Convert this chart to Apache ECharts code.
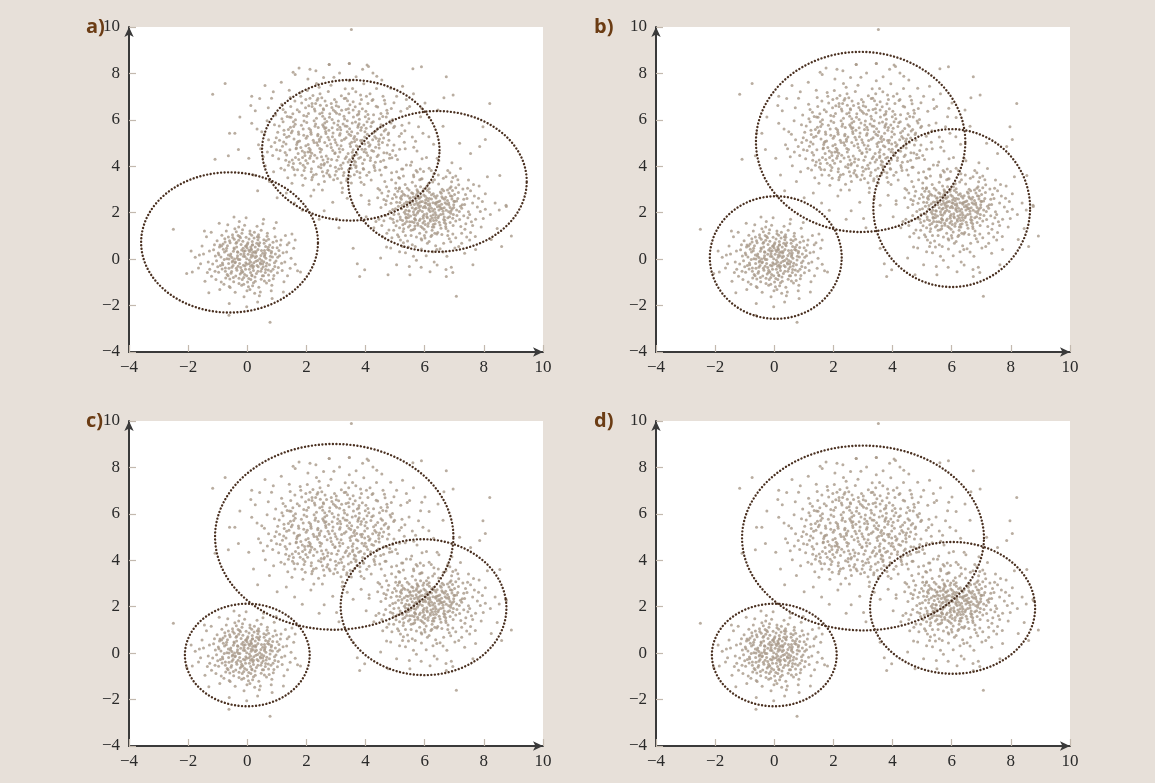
<!DOCTYPE html>
<html><head><meta charset="utf-8">
<script src="https://cdn.jsdelivr.net/npm/echarts@6/dist/echarts.min.js"></script>
<style>html,body{margin:0;padding:0;background:#e7e0d9;}#chart{width:1155px;height:783px;}</style>
</head><body><div id="chart"></div>
<script>
// ---- data ----
const xTicks = [-4, -2, 0, 2, 4, 6, 8, 10];
const yTicks = [-4, -2, 0, 2, 4, 6, 8, 10];
const panelLabels = ['a)', 'b)', 'c)', 'd)'];

const cluster1 = [
[-0.12,0.34],[0.45,-0.21],[-0.67,0.58],[0.23,0.91],[-0.35,-0.48],[0.78,0.12],[-0.91,-0.27],[0.05,-0.83],[0.62,0.55],[-0.18,1.12],
[1.05,-0.36],[-0.52,0.07],[0.31,-0.62],[-1.14,0.41],[0.14,0.18],[-0.28,-1.05],[0.87,0.73],[-0.73,-0.81],[0.47,1.24],[-0.05,-0.15],
[0.36,0.42],[-0.44,0.86],[1.21,0.28],[-1.32,-0.12],[0.09,-1.31],[0.58,-0.94],[-0.86,1.03],[0.71,-0.47],[-0.21,0.63],[0.19,-0.37],
[-0.63,-0.19],[0.94,0.96],[-0.09,1.46],[1.36,-0.71],[-1.02,0.79],[0.27,0.07],[-0.39,-0.73],[0.52,0.25],[-0.77,0.31],[0.02,0.71],
[-0.25,-0.02],[0.66,-0.18],[-0.58,-1.22],[1.12,0.61],[-1.48,0.22],[0.41,-1.58],[-0.14,0.47],[0.83,-1.12],[-0.97,-0.56],[0.15,1.03],
[0.03,0.21],[-0.47,0.34],[0.29,-0.09],[-0.82,0.65],[0.74,0.38],[-0.31,-0.31],[1.48,0.04],[-1.21,-0.74],[0.11,-0.58],[0.56,0.84],
[-0.06,-0.44],[0.38,0.63],[-0.69,0.02],[0.21,-1.02],[-1.65,-0.38],[0.97,-0.08],[-0.42,1.31],[0.64,-0.29],[-0.17,-0.88],[1.29,1.02],
[-0.33,0.15],[0.12,0.52],[-0.88,-0.98],[0.49,-0.41],[-0.04,1.78],[0.82,0.33],[-1.08,0.14],[0.33,1.42],[-0.55,-0.61],[0.07,-0.04],
[0.72,-0.68],[-0.26,0.98],[1.01,0.49],[-0.62,-0.39],[0.18,0.29],[-1.38,0.96],[0.44,-0.15],[-0.11,-1.62],[0.91,1.33],[-0.75,0.74],
[0.26,-0.77],[-0.49,-0.07],[0.59,0.18],[-0.19,0.39],[1.18,-0.49],[-0.93,-1.31],[0.06,0.87],[-0.36,0.52],[0.67,0.99],[-1.27,-0.44],
[0.42,0.02],[-0.71,1.21],[0.16,-0.25],[-0.03,0.58],[0.88,-0.84],[-0.56,0.22],[1.57,0.47],[-0.24,-0.64],[0.32,0.69],[-1.76,0.08],
[0.54,-0.33],[-0.13,-0.26],[-0.81,0.43],[0.24,1.16],[-0.41,-1.43],[1.09,0.15],[-0.64,0.95],[0.39,-1.21],[-0.08,0.11],[0.76,0.61],
[-1.17,-0.21],[0.13,0.44],[-0.29,0.81],[0.61,-0.58],[-0.48,-0.27],[1.24,-0.97],[-0.02,-0.71],[0.48,0.37],[-0.94,0.52],[0.35,-0.06],
[-0.16,1.27],[0.85,0.09],[-0.59,-0.85],[0.08,0.33],[-1.43,-0.95],[0.68,1.12],[-0.34,0.05],[0.21,-0.49],[-0.74,-0.52],[1.41,0.71],
[0.01,-0.98],[-0.38,0.69],[0.51,-0.72],[-0.98,0.27],[0.17,0.76],[-0.22,-0.36],[0.93,-0.32],[-0.66,1.48],[0.28,0.26],[-0.07,0.36],
[1.16,-0.18],[-0.53,-0.53],[0.34,0.96],[-1.04,-0.07],[0.63,0.04],[-0.27,1.62],[0.07,-0.43],[0.99,0.78],[-0.84,-0.17],[0.44,-1.41],
[-0.45,0.48],[0.22,-0.16],[-1.53,0.57],[0.75,-0.24],[-0.11,0.23],[0.53,1.52],[-0.79,-1.08],[1.33,0.31],[-0.30,-0.02],[0.04,-1.19],
[0.61,0.27],[-0.57,0.14],[0.15,-0.68],[-0.23,0.92],[1.02,-0.59],[-1.11,0.62],[0.40,0.58],[-0.46,-0.97],[0.81,-1.36],[-0.01,0.49],
[-0.85,-0.42],[0.31,0.12],[-0.15,-0.55],[0.69,0.42],[-0.60,0.79],[1.45,-0.39],[0.09,1.21],[-0.40,-0.12],[0.47,-0.87],[-1.28,0.35],
[0.17,0.61],[-0.68,-0.66],[0.95,0.22],[-0.32,0.30],[0.25,-1.47],[-0.02,0.02],[0.72,0.86],[-1.35,-0.58],[0.56,-0.11],[-0.19,-1.12],
[1.62,-0.22],[-0.50,1.05],[0.11,-0.31],[-0.89,0.09],[0.36,0.84],[-0.12,-0.79],[0.80,-0.52],[-0.70,0.47],[0.20,0.15],[-0.37,1.18],
[0.65,-1.03],[-1.00,-0.33],[0.30,0.33],[-0.26,-0.19],[1.14,0.82],[-0.61,-1.18],[0.00,0.64],[0.52,-0.20],[-1.22,1.16],[0.86,0.50],
[-0.43,0.01],[0.12,-0.88],[-0.76,0.88],[0.58,0.11],[-0.08,-0.29],[1.27,-0.12],[-0.52,-0.35],[0.38,1.05],[-1.58,-0.20],[0.14,0.40],
[-0.20,-0.58],[0.90,-0.70],[-0.36,0.73],[0.46,-0.52],[-1.06,-0.88],[0.27,0.52],[-0.64,0.18],[1.07,0.37],[0.06,-0.20],[-0.29,1.38],
[0.77,-0.04],[-0.92,0.61],[0.18,-1.15],[-0.13,0.13],[0.57,0.69],[-0.47,-0.79],[1.35,0.62],[-0.78,-0.01],[0.37,-0.33],[-0.04,0.94],
[-1.86,-0.55],[-1.62,0.18],[-1.45,1.21],[-0.45,1.82],[0.55,1.72],[1.51,1.08],[1.70,-0.50],[1.22,-1.41],[0.35,-1.85],[-0.61,-1.91],
[-1.30,-1.45],[-2.05,-0.62],[-1.90,0.35],[0.84,-1.70],[-0.02,-2.05],[1.62,0.82],[-0.95,1.55],[0.98,1.58],[0.77,-2.72],[-0.62,-2.42],
[-0.22,0.21],[0.33,-0.27],[-0.51,-0.12],[0.18,0.62],[-0.09,-0.66],[0.62,-0.45],[-0.71,0.36],[0.05,0.39],[-0.37,-0.39],[0.46,0.16],
[-0.15,0.77],[0.27,-0.95],[-0.83,-0.24],[0.71,0.51],[-0.02,-0.22],[-0.58,0.71],[0.39,0.94],[-0.28,-0.82],[0.92,-0.15],[0.13,0.08],
[-0.44,0.44],[0.55,-0.71],[-0.96,0.19],[0.24,0.32],[-0.12,-1.08],[0.81,0.27],[-0.65,-0.72],[0.09,1.09],[-0.33,0.32],[0.49,-0.06],
[-0.06,0.56],[0.36,-0.52],[-0.74,-0.38],[0.64,0.79],[-0.19,-0.48],[1.03,0.08],[-0.49,0.93],[0.21,-0.31],[-0.87,0.57],[0.11,-0.12],
[-0.31,1.02],[0.74,-0.92],[-1.09,-0.52],[0.42,0.71],[-0.01,-1.36],[0.58,0.37],[-0.62,0.01],[0.16,-0.72],[-0.42,-0.15],[0.87,-0.44]
];

const cluster2 = [
[3.12,5.34],[2.05,4.62],[4.21,5.88],[1.48,6.11],[3.67,3.95],[2.58,5.71],[4.89,4.37],[1.92,3.82],[3.34,6.45],[2.71,4.18],
[0.98,5.23],[3.89,5.12],[2.36,6.84],[4.52,6.27],[1.67,4.94],[3.05,3.47],[5.21,5.41],[2.14,5.56],[3.58,4.71],[0.54,4.41],
[2.87,6.02],[4.04,3.61],[1.21,5.92],[3.43,7.12],[2.49,3.94],[5.63,4.82],[1.84,6.73],[3.96,4.28],[2.62,5.03],[4.37,7.35],
[3.21,2.87],[1.56,4.12],[4.68,5.59],[2.29,6.38],[3.75,5.76],[0.71,6.52],[2.96,4.55],[5.12,3.52],[1.99,5.21],[3.52,3.28],
[2.43,7.41],[4.15,4.93],[1.37,3.51],[3.08,5.95],[5.86,6.13],[2.11,4.35],[3.81,6.69],[0.89,3.77],[4.48,3.84],[2.68,6.62],
[3.35,4.41],[1.73,5.48],[4.96,6.74],[2.54,2.98],[3.63,5.28],[0.33,5.61],[2.22,7.05],[4.27,5.45],[1.45,6.96],[3.17,4.89],
[5.38,4.06],[2.77,3.63],[3.94,7.56],[1.11,4.68],[4.62,4.58],[2.38,5.32],[3.46,5.62],[6.14,5.27],[1.88,3.18],[2.93,7.84],
[4.11,6.05],[1.62,5.81],[3.27,3.73],[2.01,6.16],[4.79,5.12],[0.61,4.02],[3.71,4.52],[2.45,4.77],[5.05,7.02],[3.02,6.29],
[1.29,6.33],[3.85,3.31],[2.66,5.41],[4.41,6.55],[1.95,4.47],[3.53,5.04],[5.47,5.86],[2.18,3.42],[3.13,5.68],[0.15,5.85],
[4.33,4.17],[2.82,4.96],[1.53,3.96],[3.39,6.82],[4.88,3.72],[2.26,5.96],[3.61,4.07],[1.03,5.47],[4.06,5.38],[2.57,6.48],
[3.28,5.16],[5.74,4.66],[1.81,4.81],[3.77,6.25],[2.33,3.66],[4.57,5.73],[0.82,6.93],[2.98,3.96],[3.99,4.73],[1.41,5.29],
[4.72,6.41],[2.09,5.63],[3.48,3.57],[2.74,7.22],[5.31,5.04],[1.74,4.29],[3.09,6.56],[4.19,3.41],[0.45,4.76],[2.51,4.41],
[3.66,5.91],[1.26,3.84],[4.46,4.79],[2.19,6.58],[3.31,4.34],[5.94,5.42],[1.57,5.71],[3.87,5.01],[2.41,3.23],[4.25,6.88],
[2.88,5.27],[0.96,6.21],[3.58,6.42],[1.89,4.04],[4.61,4.26],[2.62,5.86],[3.22,3.06],[5.19,6.37],[2.03,7.27],[3.74,4.84],
[1.33,4.49],[4.02,5.64],[2.47,4.62],[3.45,7.68],[5.56,4.19],[1.69,6.44],[3.16,4.05],[4.36,5.21],[2.78,6.11],[0.72,5.14],
[3.93,3.87],[2.16,5.38],[4.83,5.95],[1.51,3.27],[3.38,5.49],[2.59,4.06],[4.15,7.12],[1.06,4.32],[3.01,6.77],[5.02,4.46],
[2.31,6.71],[3.55,4.61],[1.77,5.09],[4.53,3.63],[2.92,3.42],[3.79,6.03],[0.27,6.39],[2.44,5.17],[4.95,5.67],[1.98,4.88],
[3.24,5.82],[4.39,4.42],[1.39,5.58],[2.69,3.71],[3.84,5.55],[5.69,5.08],[2.07,6.27],[3.41,4.18],[1.16,6.67],[4.64,6.84],
[2.85,4.29],[3.71,3.78],[1.63,6.01],[4.27,6.22],[2.28,4.48],[3.18,7.04],[5.26,3.88],[0.93,5.02],[3.97,4.96],[2.55,5.79],
[1.85,3.61],[4.09,5.02],[2.97,6.36],[3.62,4.23],[1.19,4.86],[4.74,4.92],[2.39,6.92],[3.36,3.38],[5.41,6.49],[2.13,4.71],
[3.50,5.33],[1.47,6.58],[4.30,3.95],[2.65,5.50],[3.89,6.48],[0.58,5.38],[2.80,3.55],[4.53,5.36],[1.91,5.34],[3.27,6.16],
[4.98,5.73],[2.24,4.21],[3.60,5.20],[1.30,4.26],[2.90,5.43],[4.21,4.68],[6.06,4.38],[2.52,6.95],[3.42,3.84],[1.72,5.07],
[3.83,4.39],[2.35,5.01],[4.70,6.12],[1.61,3.63],[3.13,4.62],[2.01,5.89],[4.44,5.08],[0.38,4.93],[3.56,7.35],[2.73,4.33],
[3.99,6.13],[1.23,5.05],[2.61,3.35],[4.82,4.51],[3.05,5.59],[1.79,7.18],[3.68,4.01],[5.33,5.53],[2.45,6.26],[4.12,3.74],
[1.94,4.59],[3.25,3.60],[4.59,7.02],[2.70,4.89],[0.67,5.96],[3.78,5.83],[2.17,3.89],[5.08,4.29],[3.44,6.31],[1.52,5.52],
[2.96,5.14],[4.26,5.92],[1.42,4.19],[3.57,4.44],[2.34,7.57],[4.91,6.02],[1.97,6.52],[3.19,3.91],[5.79,5.70],[2.84,6.71],
[3.73,5.42],[1.08,5.74],[4.17,4.37],[2.50,4.08],[3.33,6.93],[0.86,4.47],[2.62,6.05],[4.66,3.96],[3.11,4.76],[1.70,3.85],
[4.47,5.18],[2.06,4.94],[3.81,3.52],[2.40,5.67],[5.58,5.26],[1.35,6.15],[3.47,4.97],[2.83,7.49],[4.08,6.70],[1.87,4.38],
[3.03,4.26],[4.78,5.43],[1.58,5.18],[3.65,6.56],[2.20,3.53],[4.34,4.82],[0.49,5.49],[2.76,5.55],[3.90,4.12],[1.98,6.88],
[3.37,5.72],[5.15,4.73],[2.12,4.63],[3.01,3.79],[4.58,6.15],[1.65,4.76],[3.70,5.15],[2.58,6.44],[4.03,4.58],[1.14,3.92],
[0.21,3.62],[-0.42,5.42],[-0.25,6.12],[0.15,7.02],[0.60,7.48],[1.15,7.62],[1.62,7.95],[2.32,8.12],[2.77,8.38],[3.45,8.43],
[3.90,8.18],[4.25,8.02],[4.55,7.72],[5.25,7.45],[5.62,7.12],[6.01,6.73],[6.45,6.42],[6.62,5.72],[6.30,4.95],[5.88,3.45],
[0.35,2.95],[1.01,2.65],[1.60,2.42],[2.15,2.72],[2.60,2.08],[3.02,1.75],[3.58,2.32],[4.12,2.52],[4.48,2.98],[5.15,3.08],
[1.75,8.23],[2.05,7.76],[3.12,8.02],[3.68,7.86],[4.05,8.36],[4.85,7.36],[5.38,6.88],[0.12,6.62],[-0.30,4.72],[0.05,4.35],
[2.89,2.45],[2.25,2.98],[3.38,2.62],[1.32,2.85],[0.42,6.92],[5.49,6.58],[6.15,6.10],[4.38,7.88],[1.42,7.28],[2.58,7.82],
[0.75,3.35],[4.70,2.52],[3.85,2.75],[0.88,7.21],[1.86,2.11],[2.43,1.72],[5.71,3.82],[6.42,4.35],[5.90,6.50],[3.10,1.35],
[2.44,5.08],[3.86,5.67],[1.72,4.55],[4.28,4.03],[2.95,6.88],[3.41,4.55],[1.25,5.37],[4.63,5.52],[2.16,3.77],[3.29,6.04],
[2.67,4.44],[4.01,6.37],[1.54,6.26],[3.62,3.64],[2.31,5.82],[4.92,4.68],[1.89,5.61],[3.17,3.29],[2.79,6.26],[4.45,4.94],
[0.81,4.85],[3.53,5.49],[2.04,4.13],[4.18,5.71],[2.58,3.58],[3.95,4.63],[1.44,4.71],[3.06,5.78],[4.74,6.29],[2.27,6.47],
[3.69,4.89],[1.96,3.49],[2.89,4.68],[4.36,6.59],[1.17,6.05],[3.24,4.14],[5.14,5.29],[2.49,5.26],[3.83,7.07],[1.63,4.38],
[3.38,5.96],[2.12,6.93],[4.07,4.47],[2.72,3.82],[1.31,4.96],[3.58,6.78],[4.86,5.86],[2.36,4.36],[3.14,5.41],[1.81,7.02],
[2.55,6.16],[4.31,5.28],[1.58,3.86],[3.77,4.35],[2.99,5.02],[0.68,4.62],[4.51,4.21],[2.23,5.12],[3.47,6.65],[1.92,5.95],
[4.05,5.92],[2.81,4.02],[3.31,7.34],[1.49,5.44],[4.69,3.96],[2.62,5.63],[3.92,3.91],[2.09,4.78],[5.34,4.76],[3.19,6.41],
[1.76,6.35],[3.63,5.07],[2.41,3.98],[4.22,6.83],[2.93,5.86],[1.09,5.12],[3.51,3.92],[4.57,5.02],[2.19,6.71],[3.72,6.21],
[2.03,5.29],[3.46,4.28],[4.87,6.49],[1.39,4.05],[2.86,6.53],[3.98,5.49],[2.51,4.72],[4.32,3.82],[1.83,5.77],[3.23,4.72],
[2.69,5.93],[4.12,4.86],[1.61,6.81],[3.55,5.86],[2.24,3.62],[4.76,5.37],[3.08,4.41],[1.28,4.59],[3.86,6.88],[2.47,6.63],
[3.34,5.23],[1.98,4.25],[4.41,5.63],[2.77,5.14],[3.66,4.18],[0.92,5.79],[2.15,5.47],[4.96,4.92],[3.01,6.61],[1.69,5.03],
[3.97,5.26],[2.56,4.27],[3.28,6.92],[1.46,5.68],[4.43,4.49],[2.34,6.07],[3.81,3.72],[2.87,5.66],[5.23,5.77],[1.86,4.66],
[3.16,5.57],[2.63,6.81],[4.24,5.14],[1.95,3.95],[3.49,4.85],[2.39,5.38],[4.66,6.69],[1.21,6.45],[3.74,5.68],[2.97,3.62],
[4.08,6.23],[2.18,4.56],[3.37,3.46],[1.56,5.92],[2.84,4.81],[4.52,5.79],[3.12,6.24],[1.79,4.13],[3.88,4.73],[2.46,7.12],
[2.73,5.25],[3.59,6.12],[1.33,5.25],[4.16,4.25],[2.29,5.72],[3.04,4.92],[4.81,4.35],[1.91,6.19],[3.44,5.38],[2.61,4.12],
[3.94,5.78],[2.08,6.61],[4.47,6.05],[1.52,4.27],[3.19,5.11],[2.54,3.77],[3.78,6.36],[0.99,4.71],[4.27,4.65],[2.91,6.42],
[1.74,5.38],[3.56,4.38],[2.38,4.91],[4.03,7.02],[3.09,3.88],[1.43,6.12],[4.61,5.22],[2.66,5.66],[3.42,6.48],[2.14,4.44],
[3.83,5.11],[2.53,6.31],[1.66,4.79],[4.34,5.52],[2.97,4.58],[3.31,5.74],[1.24,5.55],[4.72,4.57],[2.26,5.02],[3.67,7.21]
];

const cluster3 = [
[6.12,2.34],[5.45,1.79],[6.67,2.58],[5.23,2.91],[6.35,1.52],[7.08,2.12],[5.61,1.27],[6.05,1.17],[6.82,2.85],[5.82,2.62],
[7.05,1.64],[5.48,2.07],[6.31,1.38],[4.86,2.41],[6.14,2.18],[5.72,0.95],[6.87,2.73],[5.27,1.19],[6.47,3.24],[5.95,1.85],
[6.36,2.42],[5.56,2.86],[7.21,2.28],[4.68,1.88],[6.09,0.69],[6.58,1.06],[5.14,3.03],[6.71,1.53],[5.79,2.63],[6.19,1.63],
[5.37,1.81],[6.94,2.96],[5.91,3.46],[7.36,1.29],[4.98,2.79],[6.27,2.07],[5.66,1.31],[6.52,2.25],[5.23,2.31],[6.02,2.71],
[5.75,1.98],[6.66,1.82],[5.42,0.78],[7.12,2.61],[4.52,2.22],[6.41,0.42],[5.86,2.47],[6.83,0.88],[5.03,1.44],[6.15,3.03],
[6.03,2.21],[5.53,2.34],[6.29,1.91],[5.18,2.65],[6.74,2.38],[5.69,1.69],[7.48,2.04],[4.79,1.26],[6.11,1.42],[6.56,2.84],
[5.94,1.56],[6.38,2.63],[5.31,2.02],[6.21,0.98],[4.35,1.62],[6.97,1.92],[5.58,3.31],[6.64,1.71],[5.83,1.12],[7.29,3.02],
[5.67,2.15],[6.12,2.52],[5.12,0.96],[6.49,1.59],[5.96,3.78],[6.82,2.33],[4.92,2.14],[6.33,3.42],[5.45,1.39],[6.07,1.96],
[6.72,1.32],[5.74,2.99],[7.01,2.48],[5.38,1.76],[6.18,2.29],[4.62,2.57],[6.44,1.15],[5.89,0.44],[6.91,3.33],[5.66,1.75],
[6.26,1.77],[5.51,2.64],[6.59,2.18],[5.81,2.23],[7.18,1.71],[5.07,1.64],[6.06,3.12],[6.64,0.68],[5.62,2.04],[6.35,2.01],
[6.42,2.73],[5.33,1.54],[6.88,1.98],[5.73,2.41],[7.43,2.61],[5.98,1.29],[5.21,2.58],[6.52,1.47],[5.86,3.12],[6.23,2.59],
[5.54,1.02],[6.77,2.53],[5.01,2.17],[6.09,1.78],[7.58,1.61],[5.44,2.45],[6.31,3.68],[5.77,1.46],[6.98,2.22],[4.71,3.12],
[6.17,2.39],[5.63,1.92],[6.79,1.21],[5.28,2.81],[6.46,2.47],[5.92,2.05],[7.27,2.34],[5.17,1.82],[6.59,3.01],[6.01,0.91],
[5.41,2.27],[6.86,1.58],[5.97,2.76],[6.25,1.24],[4.84,1.76],[6.61,2.62],[5.69,3.15],[7.05,0.92],[5.49,1.61],[6.29,2.82],
[5.85,1.73],[6.48,2.12],[5.22,2.17],[6.92,2.71],[5.58,0.62],[6.05,2.41],[7.62,2.42],[5.34,3.22],[6.73,2.11],[5.99,1.63],
[6.39,1.68],[5.47,2.98],[6.15,0.76],[5.78,2.32],[7.22,1.41],[5.08,1.05],[6.63,3.48],[5.67,1.43],[6.99,2.49],[6.21,1.86],
[5.59,2.47],[6.54,1.92],[5.15,3.48],[6.86,2.23],[5.88,0.88],[6.33,2.71],[4.95,1.58],[7.32,1.87],[5.71,2.71],[6.12,1.54],
[6.57,2.37],[5.36,2.11],[6.78,1.02],[5.94,2.93],[6.41,1.08],[5.16,2.44],[7.14,2.87],[5.76,1.55],[6.27,3.32],[5.52,1.86],
[6.95,1.76],[5.86,2.29],[6.64,2.95],[5.29,1.31],[6.18,2.05],[7.78,2.25],[5.43,2.72],[6.37,0.58],[5.63,3.55],[6.84,1.83],
[6.02,1.49],[5.57,1.61],[6.71,2.67],[5.04,2.68],[6.45,1.78],[5.83,3.42],[7.39,1.52],[5.28,0.71],[6.23,2.19],[6.89,3.12],
[4.42,3.04],[4.12,2.36],[4.58,0.96],[4.88,3.42],[4.28,1.35],[3.95,3.22],[4.71,0.52],[5.05,3.76],[4.45,1.72],[4.02,1.83],
[7.65,3.22],[7.91,1.38],[8.05,2.82],[7.52,0.82],[8.22,1.92],[7.84,3.15],[8.38,2.42],[7.71,0.98],[7.98,1.75],[8.12,3.55],
[5.52,4.05],[6.15,3.92],[6.78,3.82],[7.05,3.58],[5.22,3.88],[6.48,4.24],[7.48,3.41],[5.91,4.32],[6.92,4.15],[7.21,3.91],
[5.35,0.28],[6.05,0.15],[6.62,0.31],[7.02,0.48],[5.72,-0.05],[6.32,-0.12],[5.88,-0.35],[6.72,-0.45],[6.95,-0.58],[7.35,0.25],
[4.85,0.48],[4.51,0.05],[6.18,-0.54],[5.48,-0.32],[7.72,0.42],[8.25,0.85],[8.45,1.32],[8.52,2.12],[7.55,2.95],[8.75,2.32],
[5.78,2.88],[6.43,2.26],[5.65,2.35],[6.68,1.68],[6.08,2.62],[5.50,1.45],[6.93,2.16],[5.99,1.02],[6.51,2.51],[5.38,2.46],
[6.26,1.38],[5.84,2.11],[6.62,1.95],[5.25,1.66],[6.77,2.98],[6.00,2.28],[7.17,2.05],[5.60,2.83],[6.30,1.66],[5.92,1.35],
[6.16,2.88],[5.71,2.52],[6.81,2.04],[5.46,2.08],[6.55,2.17],[5.95,1.76],[7.08,2.51],[5.33,2.75],[6.38,1.91],[6.69,2.43],
[5.92,2.48],[6.47,1.86],[5.35,1.95],[6.81,2.42],[5.64,1.58],[6.23,2.77],[5.11,2.28],[6.96,1.45],[5.78,2.05],[6.34,1.12],
[5.49,2.62],[6.66,2.21],[5.87,1.41],[6.12,3.25],[4.96,1.92],[7.01,2.78],[5.69,1.89],[6.41,2.45],[5.26,1.48],[6.78,1.78],
[6.07,1.84],[5.58,2.21],[6.92,2.59],[5.41,3.05],[6.29,1.49],[7.25,2.19],[5.73,2.78],[6.55,1.33],[5.18,1.71],[6.16,2.61],
[5.97,3.02],[6.62,2.06],[5.31,2.39],[6.85,3.05],[5.54,1.24],[6.38,2.37],[7.46,1.78],[5.82,1.66],[6.03,2.55],[6.71,1.41],
[4.91,2.61],[5.62,2.68],[6.24,1.03],[6.98,2.34],[5.44,1.92],[6.14,2.12],[7.15,3.21],[5.09,2.93],[6.53,2.89],[5.90,0.82],
[4.65,3.35],[4.78,2.92],[5.02,3.28],[4.41,2.65],[4.55,1.45],[4.89,0.92],[5.25,0.55],[7.55,1.15],[7.82,2.62],[8.05,2.15],
[6.46,3.62],[5.75,3.75],[6.95,3.52],[7.38,2.78],[5.15,0.32],[6.75,0.12],[7.25,0.68],[4.72,1.12],[6.42,-0.25],[5.62,0.12],
[5.81,2.42],[6.33,2.15],[5.67,1.72],[6.58,2.69],[5.95,2.22],[6.19,1.71],[5.52,2.51],[6.89,2.09],[6.09,2.96],[5.39,1.62],
[6.66,1.58],[5.76,2.93],[6.28,2.43],[5.98,1.92],[6.49,2.31],[5.71,2.19],[7.09,1.88],[5.87,2.69],[6.36,1.79],[6.01,2.43],
[4.82,2.05],[5.05,2.45],[4.95,1.25],[5.18,0.82],[7.35,2.35],[7.52,1.92],[7.68,2.72],[7.25,1.12],[7.42,0.95],[5.02,3.05],
[4.75,2.72],[7.12,3.42],[7.62,1.45],[5.28,3.58],[6.85,3.72],[6.22,3.82],[4.62,1.65],[5.12,1.95],[7.32,2.58],[7.88,2.05],
[5.35,1.02],[5.68,0.55],[6.52,0.45],[6.88,0.75],[7.15,0.55],[4.92,1.72],[5.22,2.72],[7.45,3.05],[6.72,3.55],[5.85,3.88],
[4.55,2.85],[4.68,2.35],[7.72,1.72],[7.95,2.48],[5.45,0.52],[6.28,0.32],[6.95,1.08],[5.15,1.35],[7.05,3.08],[5.62,3.62]
];

const outliers = [
[3.52,9.89],[-2.50,1.29],[-1.17,7.10],[-0.75,7.57],[-1.09,4.30],[-0.60,5.42],[-0.64,4.45],[7.07,-1.60],[8.20,6.70],[8.93,1.00],
[8.60,0.54],[6.73,7.86],[5.89,8.29],[5.60,8.20],[2.77,8.39],[3.45,8.43],[6.96,7.07],[7.97,5.70],[7.86,4.85],[7.18,4.99],
[8.54,3.60],[8.76,2.27],[4.76,-0.67],[3.80,-0.75],[3.97,-0.46],[5.50,-0.67],[5.05,-0.24],[6.73,-0.75],[7.63,-0.24],[3.58,0.47],
[6.65,6.95],[1.55,8.05],[2.12,8.18],[4.10,8.30],[3.72,-0.20],[8.05,5.15],[7.55,4.55],[6.90,-0.35],[1.80,-0.55]
];

// ellipses: [centerX, centerY, radiusX, radiusY, rotationDeg]
const ellipsesA = [[-0.60,0.72,2.99,3.02,0],[3.50,4.69,3.00,3.03,0],[6.43,3.35,3.02,3.03,0]];
const ellipsesB = [[0.05,0.07,2.23,2.64,0],[2.92,5.05,3.54,3.88,0],[6.00,2.20,2.65,3.40,0]];
const ellipsesC = [[0.00,-0.08,2.11,2.21,0],[2.94,5.01,4.03,4.00,0],[5.96,1.98,2.80,2.93,8]];
const ellipsesD = [[0.00,-0.08,2.11,2.21,0],[3.00,4.96,4.09,3.98,0],[6.03,1.95,2.79,2.84,6]];

// ---- layout / style ----
const panels = [
  {label: panelLabels[0], left: 129, top: 27, ell: ellipsesA, lx: 86, ly: 17},
  {label: panelLabels[1], left: 656, top: 27, ell: ellipsesB, lx: 594, ly: 17},
  {label: panelLabels[2], left: 129, top: 421, ell: ellipsesC, lx: 86, ly: 411},
  {label: panelLabels[3], left: 656, top: 421, ell: ellipsesD, lx: 594, ly: 411}
];
const PW = 414, PH = 325;
const points = cluster1.concat(cluster2, cluster3, outliers);
const fmt = v => String(v).replace('-', '\u2212');
const axisFont = {fontFamily: 'Liberation Serif', fontSize: 17, color: '#2a2a2a'};

const grid = [], xAxis = [], yAxis = [], series = [], graphic = [];
panels.forEach((p, i) => {
  grid.push({left: p.left, top: p.top, width: PW, height: PH, show: true, backgroundColor: '#ffffff', borderWidth: 0});
  const common = {
    gridIndex: i, type: 'value', min: xTicks[0], max: xTicks[xTicks.length - 1], interval: 2,
    axisLine: {show: true, onZero: false, symbol: ['none', 'arrow'], symbolSize: [7, 10], lineStyle: {color: '#3a3a3a', width: 2}},
    axisTick: {show: true, inside: true, length: 7, lineStyle: {color: '#c3b9ae', width: 1.2}},
    splitLine: {show: false}
  };
  xAxis.push(Object.assign({}, common, {axisLabel: Object.assign({margin: 7, formatter: fmt}, axisFont)}));
  yAxis.push(Object.assign({}, common, {min: yTicks[0], max: yTicks[yTicks.length - 1],
    axisLabel: Object.assign({margin: 9, formatter: fmt}, axisFont)}));
  series.push({
    type: 'scatter', xAxisIndex: i, yAxisIndex: i, data: points, symbol: 'circle', symbolSize: 3,
    itemStyle: {color: '#a89988'}, silent: true, z: 2
  });
  series.push({
    type: 'custom', xAxisIndex: i, yAxisIndex: i, data: p.ell, silent: true, z: 3,
    renderItem: function (params, api) {
      const cx = api.value(0), cy = api.value(1), rx = api.value(2), ry = api.value(3);
      const a = api.value(4) * Math.PI / 180;
      const pts = [];
      const N = 360;
      for (let k = 0; k < N; k++) {
        const t = k / N * 2 * Math.PI;
        const dx = rx * Math.cos(t), dy = ry * Math.sin(t);
        pts.push(api.coord([cx + dx * Math.cos(a) - dy * Math.sin(a), cy + dx * Math.sin(a) + dy * Math.cos(a)]));
      }
      return {type: 'polygon', shape: {points: pts},
        style: {fill: 'none', stroke: '#4a3020', lineWidth: 2.4, lineDash: [0.01, 3.5], lineCap: 'round'}};
    }
  });
  graphic.push({type: 'text', left: p.lx, top: p.ly,
    style: {text: p.label, font: 'bold 20px "Open Sans", "Noto Sans", sans-serif', fill: '#6b3c14'}});
});

const chart = echarts.init(document.getElementById('chart'), null, {renderer: 'canvas'});
chart.setOption({backgroundColor: '#e7e0d9', animation: false, grid, xAxis, yAxis, series, graphic});
</script>
</body></html>
